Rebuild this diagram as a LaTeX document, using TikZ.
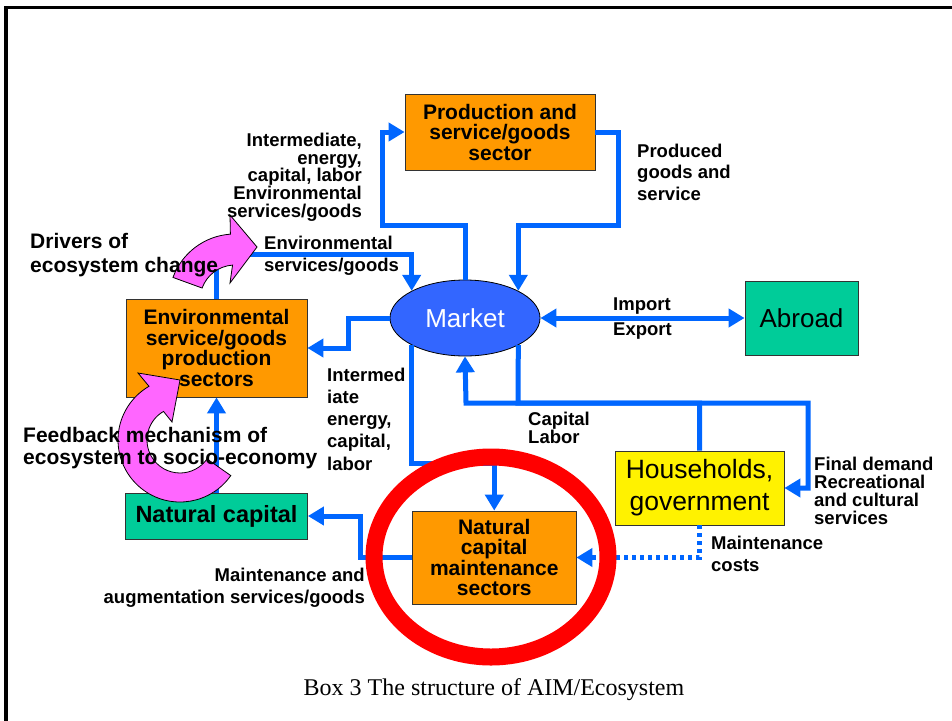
\documentclass[tikz,border=0pt]{standalone}
\usepackage{fontspec}
\setmainfont{Liberation Sans}
\newfontfamily\capfont{Liberation Serif}
\usetikzlibrary{arrows.meta,shapes.geometric}
\definecolor{flowblue}{RGB}{0,102,255}
\definecolor{boxorange}{RGB}{255,153,0}
\definecolor{boxgreen}{RGB}{0,204,153}
\definecolor{mktblue}{RGB}{51,102,255}
\definecolor{pinkfill}{RGB}{255,102,255}
\definecolor{ringred}{RGB}{255,0,0}
\newcommand\fsz[2]{\fontsize{#1}{#2}\selectfont}
\begin{document}
\begin{tikzpicture}[x=1pt,y=-1pt,
  box/.style={draw=black!80, line width=0.8pt, inner sep=0pt, align=center},
  flow/.style={draw=flowblue, line width=5pt, -{Triangle[length=16pt,width=18pt]}},
  flowboth/.style={draw=flowblue, line width=5pt, {Triangle[length=16pt,width=18pt]}-{Triangle[length=16pt,width=18pt]}},
  dotflow/.style={flow, dash pattern=on 4pt off 4pt},
  pinkarrow/.style={fill=pinkfill, draw=black, line width=0.8pt},
  lbl/.style={inner sep=0pt, font=\bfseries\fsz{18.5}{22}},
  biglbl/.style={inner sep=0pt, font=\bfseries\fsz{21}{22.3}}
]
\useasboundingbox (0,0) rectangle (952,720);
% frame
\draw[line width=3.5pt] (6,722) -- (6,7.5) -- (954,7.5);

% boxes
\node[box, fill=boxorange, minimum width=190pt, minimum height=76pt, font=\bfseries\fsz{21}{20.5}] (prod) at (500,132) {Production and\\service/goods\\sector};
\node[box, fill=boxorange, minimum width=181pt, minimum height=98pt, font=\bfseries\fsz{21}{20.7}] (env) at (216.5,348) {Environmental\\service/goods\\production\\sectors};
\node[box, fill=boxgreen, minimum width=182pt, minimum height=46pt, font=\bfseries\fsz{23.5}{28}] (natcap) at (216.5,516) {Natural capital};
\node[box, fill=boxorange, minimum width=163.5pt, minimum height=93pt, font=\bfseries\fsz{21}{20.4}] (ncm) at (494.25,557.5) {Natural\\capital\\maintenance\\sectors};
\node[draw=black, line width=0.8pt, fill=mktblue, ellipse, inner sep=0pt, minimum width=150pt, minimum height=76pt, text=white, font=\fsz{26}{30}] (market) at (465,318) {Market};
\node[box, fill=boxgreen, minimum width=113pt, minimum height=74pt, font=\fsz{26}{30}] (abroad) at (801.5,318) {Abroad};
\node[box, fill=yellow, minimum width=169pt, minimum height=74pt, font=\fsz{26.5}{32}] (hh) at (699.5,488) {Households,\\government};

% connectors
\draw[flow] (market.north) |- (382,225) |- (prod.west);
\draw[flow] (prod.east) -| (618,225) -| (market.north east);
\draw[flow] (env.north) -- (216.5,254) -| (market.north west);
\draw[flow] (market.west) -- (348,318) |- (env.east);
\draw[flowboth] (market.east) -- (abroad.west);
\draw[flow] (hh.north) |- (466,403) -- (market.south);
\draw[flow] (market.south east) -- (518,403) -- (808,403) |- (hh.east);
\draw[flow] (market.south west) |- (494.25,463) -- (ncm.north);
\draw[flow] (ncm.west) -- (360,557.5) |- (natcap.east);
\draw[flow] (natcap.north) -- (env.south);
\draw[dotflow] (hh.south) |- (ncm.east);

% red ring
\draw[ringred, line width=17pt] (491,557) ellipse [x radius=117, y radius=100];

% pink curved arrows
\begin{scope}[shift={(235,300)}, yscale=-1]
  \filldraw[pinkarrow] (160:35) -- (160:66) arc[start angle=160,end angle=94,radius=66]
    -- (-5,85) -- (22,53) -- (-5,17) -- (94:35) arc[start angle=94,end angle=160,radius=35] -- cycle;
\end{scope}
\begin{scope}[shift={(180,440)}, yscale=-1]
  \filldraw[pinkarrow] (-35:33) -- (-35:62) arc[start angle=-35,end angle=-240,radius=62]
    -- (-42,67) -- (0,60) -- (-8,18) -- (120:33) arc[start angle=120,end angle=325,radius=33] -- cycle;
\end{scope}

% labels
\node[lbl, anchor=east, align=right, font=\bfseries\fsz{18.5}{17.7}] (linter) at (362,177) {Intermediate,\\energy,\\capital, labor\\Environmental\\services/goods};
\node[lbl, anchor=west, align=left, font=\bfseries\fsz{18.5}{21.5}] (lprod) at (637,172) {Produced\\goods and\\service};
\node[lbl, anchor=west, align=left] (lenv) at (264,256) {Environmental\\services/goods};
\node[lbl, anchor=west, align=left, font=\bfseries\fsz{21}{23.5}] (ldrv) at (30,255) {Drivers of\\ecosystem change};
\node[lbl, anchor=west, align=left, font=\bfseries\fsz{18.5}{25}] (limp) at (613,319) {Import\\Export};
\node[lbl, anchor=west, align=left, font=\bfseries\fsz{18.5}{22.2}] (lint2) at (327,419) {Intermed\\iate\\energy,\\capital,\\labor};
\node[biglbl, anchor=west, align=left] (lfb) at (23,448) {Feedback mechanism of\\ecosystem to socio-economy};
\node[lbl, anchor=west, align=left, font=\bfseries\fsz{18.5}{16.5}] (lcap) at (528,428) {Capital\\Labor};
\node[lbl, anchor=west, align=left, font=\bfseries\fsz{18.5}{18}] (lfd) at (814,491) {Final demand\\Recreational\\and cultural\\services};
\node[lbl, anchor=west, align=left] (lmc) at (711,554) {Maintenance\\costs};
\node[lbl, anchor=east, align=right] (lma) at (365,588) {Maintenance and\\augmentation services/goods};
\node[inner sep=0pt, font=\capfont\fsz{24}{28}] (caption) at (494,690) {Box 3 The structure of AIM/Ecosystem};
\end{tikzpicture}
\end{document}
